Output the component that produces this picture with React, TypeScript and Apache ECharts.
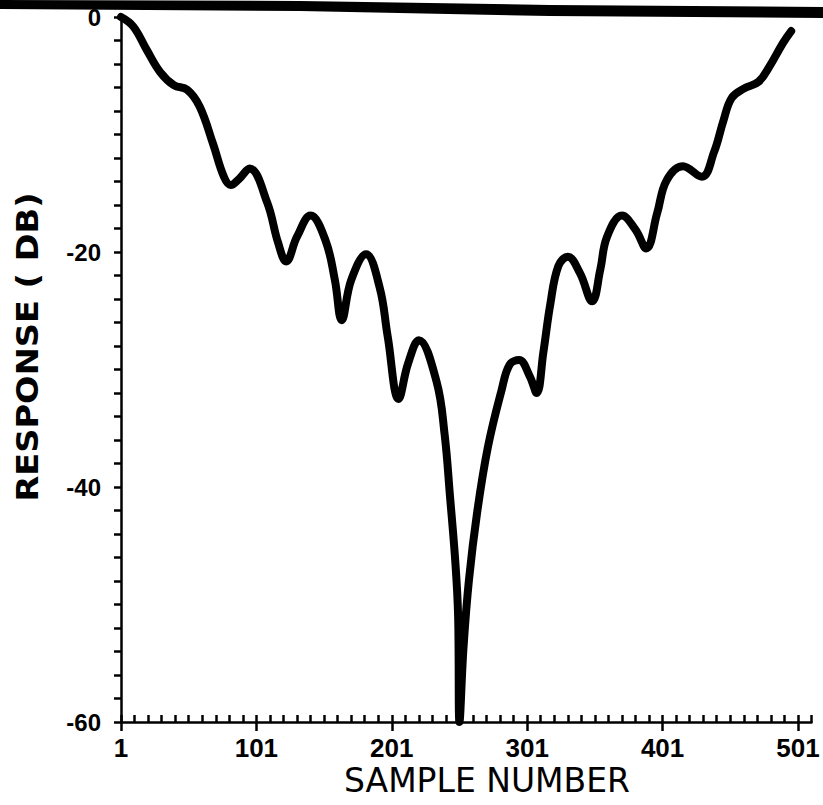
import React, { useEffect, useRef } from "react";
import * as echarts from "echarts";

// Sample numbers
const samples = [
  1, 10, 20, 30, 40, 50, 59, 69, 77, 82, 88, 96, 109, 117, 123, 131, 141, 152,
  159, 164, 171, 182, 192, 198, 206, 213, 221, 234, 240, 244, 248, 250, 251,
  254, 258, 264, 272, 282, 288, 295, 303, 308, 313, 318, 324, 331, 340, 349,
  355, 360, 371, 381, 389, 397, 404, 416, 430, 439, 446, 452, 461, 472, 480,
  490, 496,
];
// Response in dB at those samples
const responseDb = [
  0, -0.8, -2.8, -4.7, -5.8, -6.2, -7.6, -10.8, -13.6, -14.3, -13.8, -12.9,
  -15.8, -19.2, -20.8, -18.7, -16.9, -19.0, -22.4, -25.8, -22.4, -20.2, -23.0,
  -27.2, -32.5, -29.5, -27.5, -31.0, -35.5, -40.8, -46.5, -51.0, -60.0, -53.6,
  -47.9, -42.2, -36.6, -31.8, -29.6, -29.2, -30.6, -32.0, -28.5, -24.5, -21.2,
  -20.4, -21.8, -24.2, -21.5, -18.7, -16.9, -18.1, -19.7, -16.7, -13.9, -12.7,
  -13.6, -11.5, -8.8, -6.9, -6.1, -5.5, -4.2, -2.2, -1.2,
];

const xLabels = [1, 101, 201, 301, 401, 501];
const yLabels = [0, -20, -40, -60];
const xMin = 1;
const xMax = 511;
const xMinorStep = 10;
const yMin = -60;
const yMax = 0;
const yMinorStep = 2;

const xTitle = "SAMPLE NUMBER";
const yTitle = "RESPONSE ( DB)";

export default function App() {
  const ref = useRef<HTMLDivElement>(null);

  useEffect(() => {
    if (!ref.current) return;
    const chart = echarts.init(ref.current, undefined, { renderer: "svg" });

    const xMinor: number[] = [];
    for (let v = xMin; v <= xMax; v += xMinorStep) xMinor.push(v);
    const yMinor: number[] = [];
    for (let v = yMin; v <= yMax; v += yMinorStep) yMinor.push(v);

    const axisStyle = { color: "#000", width: 2.5 };

    chart.setOption({
      animation: false,
      backgroundColor: "#fff",
      grid: {
        left: 121,
        top: 17,
        width: 690.5,
        height: 705,
        containLabel: false,
        outerBoundsMode: "none",
      },
      xAxis: [
        {
          type: "value",
          min: xMin,
          max: xMax,
          position: "bottom",
          axisLine: { show: true, onZero: false, lineStyle: axisStyle },
          axisTick: {
            show: true,
            inside: true,
            length: 7,
            customValues: xMinor,
            lineStyle: axisStyle,
          },
          axisLabel: { show: false },
          splitLine: { show: false },
        },
        {
          type: "value",
          min: xMin,
          max: xMax,
          position: "bottom",
          axisLine: { show: false, onZero: false },
          axisTick: {
            show: true,
            inside: false,
            length: 9,
            customValues: xLabels,
            lineStyle: axisStyle,
          },
          axisLabel: {
            show: true,
            customValues: xLabels,
            margin: 13,
            fontSize: 26,
            fontWeight: "bold",
            fontFamily: "'Liberation Sans', Arial, sans-serif",
            color: "#000",
          },
          splitLine: { show: false },
        },
      ],
      yAxis: {
        type: "value",
        min: yMin,
        max: yMax,
        axisLine: { show: true, onZero: false, lineStyle: axisStyle },
        axisTick: {
          show: true,
          inside: false,
          length: 7,
          customValues: yMinor,
          lineStyle: axisStyle,
        },
        axisLabel: {
          show: true,
          customValues: yLabels,
          margin: 20,
          fontSize: 24,
          fontWeight: "bold",
          fontFamily: "'Liberation Sans', Arial, sans-serif",
          color: "#000",
        },
        splitLine: { show: false },
      },
      series: [
        {
          type: "line",
          xAxisIndex: 0,
          data: samples.map((s, i) => [s, responseDb[i]]),
          showSymbol: false,
          smooth: 0.4,
          clip: false,
          lineStyle: { color: "#000", width: 8, cap: "round", join: "round" },
        },
      ],
      graphic: [
        {
          type: "polygon",
          shape: {
            points: [
              [0, 0],
              [300, 1],
              [550, 5],
              [823, 7],
              [823, 18],
              [550, 16],
              [300, 11],
              [0, 9],
            ],
          },
          style: { fill: "#000" },
          silent: true,
        },
        {
          type: "text",
          x: 487,
          y: 780,
          style: {
            text: xTitle,
            fill: "#000",
            fontSize: 33,
            fontFamily: "'DejaVu Sans', sans-serif",
            align: "center",
            verticalAlign: "middle",
          },
        },
        {
          type: "text",
          x: 28,
          y: 347,
          rotation: Math.PI / 2,
          scaleX: 1.12,
          style: {
            text: yTitle,
            fill: "#000",
            fontSize: 30,
            fontWeight: "bold",
            fontFamily: "'DejaVu Sans', sans-serif",
            align: "center",
            verticalAlign: "middle",
          },
        },
      ],
    });

    return () => chart.dispose();
  }, []);

  return (
    <div
      ref={ref}
      style={{
        position: "fixed",
        left: 0,
        top: 0,
        width: 823,
        height: 805,
        background: "#fff",
      }}
    />
  );
}
